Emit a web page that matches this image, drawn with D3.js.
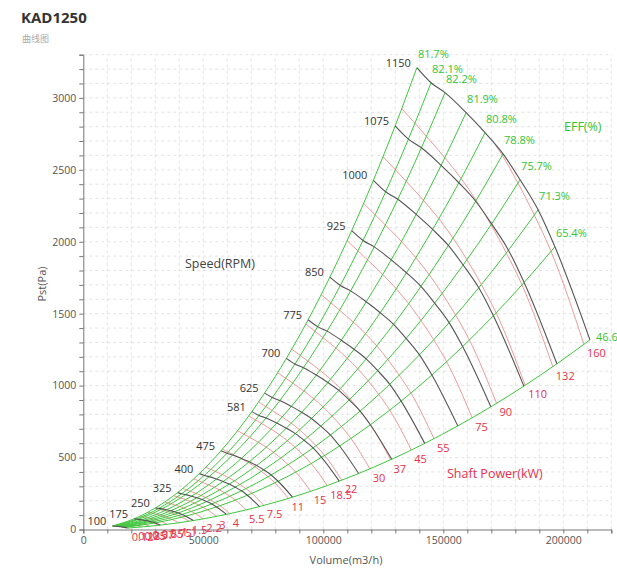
<!DOCTYPE html>
<html>
<head>
<meta charset="utf-8">
<script src="https://cdn.jsdelivr.net/npm/d3@7"></script>
<style>
  html, body { margin: 0; padding: 0; background: #fff; }
  svg { display: block; font-family: "Open Sans", "Noto Sans", sans-serif; }
</style>
</head>
<body>
<div id="chart"></div>
<script>
// ---- data ----
const title = "KAD1250";
const subtitle = "曲线图";
const speeds = [100, 175, 250, 325, 400, 475, 581, 625, 700, 775, 850, 925, 1000, 1075, 1150];
const baseSpeed = 1150;
// operating points of the 1150 rpm curve, one per efficiency line
const baseVolume   = [139000, 144900, 150700, 159500, 167400, 174900, 182000, 189500, 196500, 211100];
const basePressure = [3210, 3105, 3036, 2897, 2758, 2611, 2431, 2222, 1965, 1318];
const effValues = [81.7, 82.1, 82.2, 81.9, 80.8, 78.8, 75.7, 71.3, 65.4, 46.6];
const effLabels = ["81.7%", "82.1%", "82.2%", "81.9%", "80.8%", "78.8%", "75.7%", "71.3%", "65.4%", "46.6%"];
const powers = [0.12, 0.18, 0.25, 0.37, 0.55, 0.75, 1.1, 1.5, 2.2, 3, 4, 5.5, 7.5, 11, 15, 18.5, 22, 30, 37, 45, 55, 75, 90, 110, 132, 160];
const powerLabels = ["0.12", "0.18", "0.25", "0.37", "0.55", "0.75", "1.1", "1.5", "2.2", "3", "4", "5.5", "7.5", "11", "15", "18.5", "22", "30", "37", "45", "55", "75", "90", "110", "132", "160"];
const xTicks = d3.range(0, 220001, 10000);
const yTicks = d3.range(0, 3301, 100);
const xLabelTicks = [0, 50000, 100000, 150000, 200000];
const yLabelTicks = [0, 500, 1000, 1500, 2000, 2500, 3000];

// ---- layout ----
const W = 617, H = 576;
const svg = d3.select("#chart").append("svg").attr("width", W).attr("height", H);
const x = d3.scaleLinear().domain([0, 220000]).range([83.3, 611.3]);
const y = d3.scaleLinear().domain([0, 3300]).range([529.5, 54.7]);

// shaft power (kW) at each base point
const basePower = baseVolume.map((q, i) => q / 3600 * basePressure[i] / (effValues[i] / 100) / 1000);

// grid
const grid = svg.append("g");
grid.selectAll("line.v").data(xTicks.slice(1)).enter().append("line")
  .attr("x1", d => x(d)).attr("x2", d => x(d)).attr("y1", y(0)).attr("y2", y(3300))
  .attr("stroke", "#dcdcdc").attr("stroke-width", 0.8).attr("stroke-dasharray", "3,3");
grid.selectAll("line.h").data(yTicks.slice(1)).enter().append("line")
  .attr("x1", x(0)).attr("x2", x(220000)).attr("y1", d => y(d)).attr("y2", d => y(d))
  .attr("stroke", "#dcdcdc").attr("stroke-width", 0.8).attr("stroke-dasharray", "3,3");

// axes
const xAxis = svg.append("g").attr("transform", `translate(0,${y(0)})`)
  .call(d3.axisBottom(x).tickValues(xTicks).tickSize(4).tickPadding(3)
    .tickFormat(d => xLabelTicks.includes(d) ? String(d) : ""));
const yAxis = svg.append("g").attr("transform", `translate(${x(0)},0)`)
  .call(d3.axisLeft(y).tickValues(yTicks).tickSize(4).tickPadding(3)
    .tickFormat(d => yLabelTicks.includes(d) ? String(d) : ""));
[xAxis, yAxis].forEach(a => {
  a.select(".domain").attr("stroke", "#777");
  a.selectAll(".tick line").attr("stroke", "#777");
  a.selectAll(".tick text").attr("fill", "#555").style("font-size", "10.5px").style("font-family", "Open Sans, sans-serif");
});

svg.append("text").attr("x", 346).attr("y", 564).attr("text-anchor", "middle")
  .attr("fill", "#555").style("font-size", "11px").text("Volume(m3/h)");
svg.append("text").attr("transform", "translate(46,284) rotate(-90)").attr("text-anchor", "middle")
  .attr("fill", "#555").style("font-size", "11px").text("Pst(Pa)");

// title
svg.append("text").attr("x", 21).attr("y", 23).attr("fill", "#333")
  .style("font-size", "15px").style("font-weight", "bold").text(title);
svg.append("text").attr("x", 22).attr("y", 42).attr("fill", "#aaa")
  .style("font-size", "9px").style("font-family", "Noto Sans CJK SC, sans-serif").text(subtitle);

const line = d3.line().x(d => x(d[0])).y(d => y(d[1])).curve(d3.curveMonotoneX);

// ---- shaft power curves (red) ----
const redG = svg.append("g");
const redEnds = [];
powers.forEach((w, k) => {
  const pts = [];
  for (let i = 0; i < baseVolume.length; i++) {
    const r = Math.cbrt(w / basePower[i]);
    if (r <= 1) {
      if (pts.length === 0 && i > 0) {
        // enters through the top speed curve
        const t = (w - basePower[i - 1]) / (basePower[i] - basePower[i - 1]);
        pts.push([baseVolume[i - 1] + t * (baseVolume[i] - baseVolume[i - 1]),
                  basePressure[i - 1] + t * (basePressure[i] - basePressure[i - 1])]);
      }
      pts.push([baseVolume[i] * r, basePressure[i] * r * r]);
    }
  }
  redG.append("path").attr("d", line(pts)).attr("fill", "none")
    .attr("stroke", "#f29a9a").attr("stroke-width", 1);
  redEnds.push({ p: pts[pts.length - 1], label: powerLabels[k] });
});

// ---- efficiency lines (green) ----
const greenG = svg.append("g");
baseVolume.forEach((q, i) => {
  const pts = speeds.map(n => { const r = n / baseSpeed; return [q * r, basePressure[i] * r * r]; });
  greenG.append("path").attr("d", line(pts)).attr("fill", "none")
    .attr("stroke", "#3cc83c").attr("stroke-width", 1);
});

// ---- speed curves (gray) ----
const grayG = svg.append("g");
speeds.forEach(n => {
  const r = n / baseSpeed;
  const pts = baseVolume.map((q, i) => [q * r, basePressure[i] * r * r]);
  grayG.append("path").attr("d", line(pts)).attr("fill", "none")
    .attr("stroke", "#555").attr("stroke-width", 1.1);
  grayG.append("text").attr("x", x(pts[0][0]) - 6).attr("y", y(pts[0][1]) - 1)
    .attr("text-anchor", "end").attr("fill", "#333").style("font-size", "11px").text(n);
});

// labels
const lab = svg.append("g");
redEnds.forEach(d => {
  lab.append("text").attr("x", x(d.p[0]) + 3).attr("y", y(d.p[1]) + 13)
    .attr("fill", "#e8304a").style("font-size", "11px").text(d.label);
});
effLabels.forEach((t, i) => {
  const last = i === effLabels.length - 1;
  lab.append("text")
    .attr("x", x(baseVolume[i]) + (last ? 6 : 1))
    .attr("y", y(basePressure[i]) + (last ? 1 : -10))
    .attr("fill", "#33c433").style("font-size", "11px").text(t);
});

svg.append("text").attr("x", 185).attr("y", 268).attr("fill", "#444")
  .style("font-size", "12.5px").text("Speed(RPM)");
svg.append("text").attr("x", 564).attr("y", 131).attr("fill", "#33c433")
  .style("font-size", "12.5px").text("EFF(%)");
svg.append("text").attr("x", 447).attr("y", 478).attr("fill", "#e8304a")
  .style("font-size", "12.5px").text("Shaft Power(kW)");
</script>
</body>
</html>
